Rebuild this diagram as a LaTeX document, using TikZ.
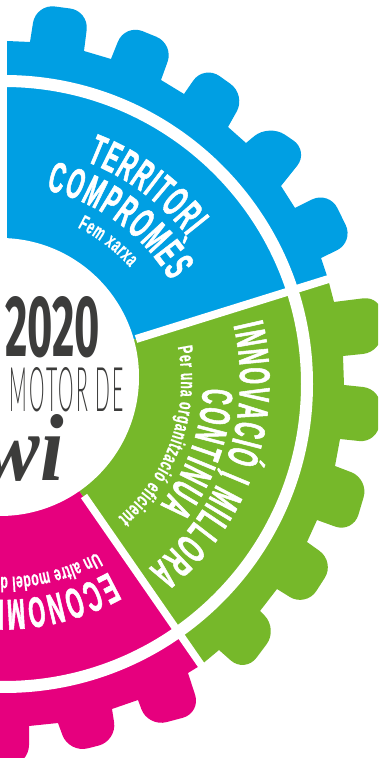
\documentclass[tikz,border=0pt]{standalone}
\usepackage{fontspec}
\usepackage{graphicx}
\usetikzlibrary{decorations.text}
\setmainfont{Liberation Sans}
\newfontfamily\condb[FakeStretch=0.5,FakeBold=1.2]{Liberation Sans Bold}
\newfontfamily\condm[FakeStretch=0.58,FakeBold=0.4]{Liberation Sans Bold}
\newfontfamily\digits{Fira Sans}
\newfontfamily\thinf[LetterSpace=12]{Lato Light}
\newfontfamily\scriptf{Liberation Serif}
\newcommand{\hfont}{\color{white}\condb\fontsize{43}{43}\selectfont}
\newcommand{\sfont}{\color{white}\condm\fontsize{21}{21}\selectfont}
\definecolor{gblue}{RGB}{0,159,227}
\definecolor{ggreen}{RGB}{118,184,42}
\definecolor{gpink}{RGB}{230,0,126}
\definecolor{gdark}{RGB}{60,60,59}
\tikzset{
  rc/.style={rounded corners=19pt},
  sh/.style={sharp corners},
  gap/.style={draw=white,line width=#1},
  arctext/.style args={#1/#2}{decorate,decoration={text along path,text={|#1|#2},text align={fit to path}}}
}
\begin{document}
\begin{tikzpicture}[x=1pt,y=1pt]
\useasboundingbox (0,0) rectangle (378,758);
\clip (0,0) rectangle (378,758);
\fill[white] (0,0) rectangle (378,758);
\coordinate (c) at (2,377);
\begin{scope}[cm={1,0,0,-1,(0,758)}]
% blue
\fill[gblue] (7,41) -- (30,42) [rc] -- (36,4) -- (89,11) [sh] -- (84,51)
  -- (111,59) [rc] -- (125,24) -- (174,44) [sh] -- (161,80)
  -- (184,94) [rc] -- (204,65) -- (246,95) [sh] -- (228,127)
  -- (246,143) [rc] -- (269,124) -- (309,151) [sh] -- (281,186)
  -- (295,208) [rc] -- (329,191) -- (354,242) [sh] -- (321,258)
  -- (328,279) -- (2,381) -- (7,381) -- cycle;
% green
\fill[ggreen] (328,279) -- (334,302) [rc] -- (382,296) -- (382,352) [sh] -- (343,356)
  -- (344,385) [rc] -- (382,389) -- (378,443) [sh] -- (340,439)
  -- (335,466) [rc] -- (369,479) -- (353,533) [sh] -- (317,520)
  -- (307,542) [rc] -- (335,562) -- (306,607) [sh] -- (277,589)
  -- (260,611) [rc] -- (278,629) -- (245,673) [sh] -- (219,650)
  -- (201,665) -- (2,381) -- cycle;
% pink
\fill[gpink] (201,665) -- (188,673) [rc] -- (201,713) -- (148,727) [sh] -- (138,700)
  -- (112,709) [rc] -- (117,741) -- (69,753) [sh] -- (58,723)
  -- (29,726) [rc] -- (29,764) -- (-30,772) [sh] -- (-30,740)
  -- (-10,381) -- (2,381) -- cycle;
% gaps
\draw[gap=12] (4,384) circle[radius=303];
\draw[gap=8] (136,339) -- (335,277);
\draw[gap=7.5] (84,496) -- (206,672);
\fill[white] (0,377) circle[radius=139];
\end{scope}
% curved labels
\path[arctext={\hfont/TERRITORI}] (c) ++(69:235) arc[start angle=69,end angle=38,radius=235];
\path[arctext={\hfont/COMPROMÈS}] (c) ++(77:196) arc[start angle=77,end angle=30.8,radius=196];
\path[arctext={\sfont/Fem xarxa}] (c) ++(63.8:171) arc[start angle=63.8,end angle=41.7,radius=171];
\path[arctext={\hfont/INNOVACIÓ I MILLORA}] (c) ++(13.5:238) arc[start angle=13.5,end angle=-52,radius=238];
\path[arctext={\hfont/CONTÍNUA}] (c) ++(-2:201) arc[start angle=-2,end angle=-38.2,radius=201];
\path[arctext={\sfont/Per una organització eficient}] (c) ++(11:179) arc[start angle=11,end angle=-49.5,radius=179];
\path[arctext={\hfont/ECONOMI}] (c) ++(-60.8:219) arc[start angle=-60.8,end angle=-91,radius=219];
\path[arctext={\sfont/Un altre model d}] (c) ++(-61:196) arc[start angle=-61,end angle=-90.5,radius=196];
% centre text
\node[anchor=south west,inner sep=0pt,text=gdark] (yr) at (5,400) {\resizebox{95pt}{60pt}{\digits\bfseries 2020}};
\node[anchor=south west,inner sep=0pt,text=gdark] (mot) at (9,346) {\resizebox{115pt}{44pt}{\thinf MOTOR DE}};
\node[anchor=south east,inner sep=0pt,text=gdark] (wi) at (64,276) {\resizebox{80pt}{66pt}{\scriptf\itshape\bfseries wi}};
\end{tikzpicture}
\end{document}
